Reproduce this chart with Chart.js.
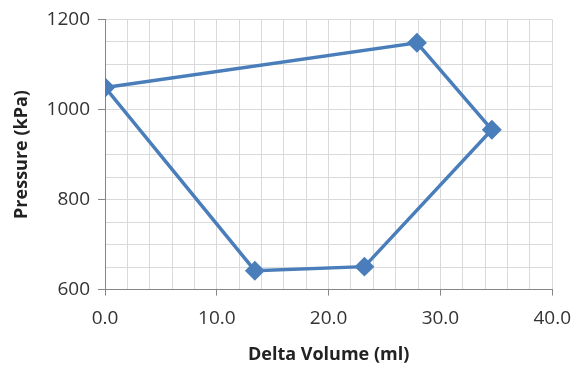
<!DOCTYPE html>
<html>
<head>
<meta charset="utf-8">
<script src="https://cdn.jsdelivr.net/npm/chart.js@4/dist/chart.umd.min.js"></script>
<style>
    html, body { margin: 0; padding: 0; background: #ffffff; }
    #wrap { width: 583px; height: 366px; position: relative; }
</style>
</head>
<body>
<div id="wrap"><canvas id="pvChart"></canvas></div>
<script>
// Pressure / volume loop, points in drawing order (closed back to the start)
const deltaVolume = [0.0, 27.9, 34.6, 23.2, 13.4, 0.0];
const pressure = [1049, 1148, 955, 651, 642, 1049];

// Labelled ticks
const xTickLabels = ['0.0', '10.0', '20.0', '30.0', '40.0'];
const yTickLabels = ['600', '800', '1000', '1200'];

const lineBlue = '#4a7ebb';
const gridGrey = '#d9d9d9';
const axisGrey = '#868686';

const points = deltaVolume.map((x, i) => ({ x: x, y: pressure[i] }));

new Chart(document.getElementById('pvChart'), {
    type: 'scatter',
    data: {
        datasets: [{
            data: points,
            showLine: true,
            borderColor: lineBlue,
            backgroundColor: lineBlue,
            borderWidth: 3.5,
            pointStyle: 'rectRot',
            pointRadius: 7.5,
            pointHoverRadius: 7.5,
            tension: 0
        }]
    },
    options: {
        responsive: true,
        maintainAspectRatio: false,
        animation: false,
        layout: {
            padding: { left: 11, right: 0, top: 0, bottom: 0 }
        },
        plugins: {
            legend: { display: false },
            tooltip: { enabled: false }
        },
        scales: {
            x: {
                type: 'linear',
                min: 0,
                max: 40,
                border: { color: axisGrey, width: 1 },
                grid: {
                    color: gridGrey,
                    lineWidth: 1,
                    tickLength: 6,
                    tickColor: ctx => (ctx.tick && ctx.tick.value % 10 === 0) ? axisGrey : 'rgba(0,0,0,0)'
                },
                ticks: {
                    stepSize: 2,
                    autoSkip: false,
                    maxRotation: 0,
                    color: '#333333',
                    font: { family: 'Open Sans', size: 19 },
                    padding: 12,
                    callback: value => value % 10 === 0 ? xTickLabels[value / 10] : ''
                },
                title: {
                    display: true,
                    text: 'Delta Volume (ml)',
                    color: '#222222',
                    font: { family: 'Open Sans', size: 18, weight: 'bold' },
                    padding: { top: 2, bottom: 0 }
                }
            },
            y: {
                type: 'linear',
                min: 600,
                max: 1200,
                border: { color: axisGrey, width: 1 },
                grid: {
                    color: gridGrey,
                    lineWidth: 1,
                    tickLength: 7,
                    tickColor: ctx => (ctx.tick && ctx.tick.value % 200 === 0) ? axisGrey : 'rgba(0,0,0,0)'
                },
                ticks: {
                    stepSize: 50,
                    autoSkip: false,
                    color: '#333333',
                    font: { family: 'Open Sans', size: 19 },
                    padding: 8,
                    callback: value => value % 200 === 0 ? yTickLabels[(value - 600) / 200] : ''
                },
                title: {
                    display: true,
                    text: 'Pressure (kPa)',
                    color: '#222222',
                    font: { family: 'Open Sans', size: 18, weight: 'bold' },
                    padding: { top: 0, bottom: 6 }
                }
            }
        }
    }
});
</script>
</body>
</html>
